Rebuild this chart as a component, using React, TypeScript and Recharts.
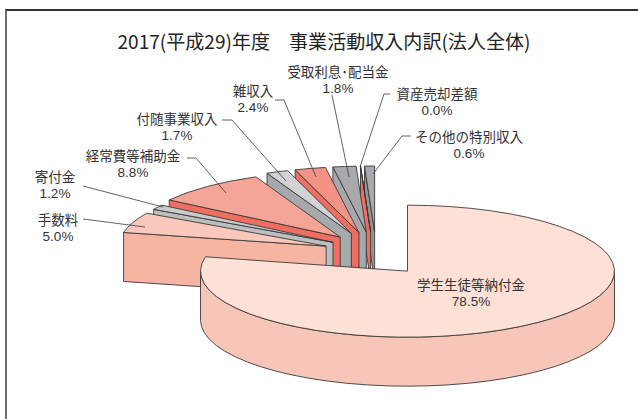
import React from "react";
import { PieChart, Pie, Cell } from "recharts";

const title = "2017(平成29)年度　事業活動収入内訳(法人全体)";
// drawn from the back of the pie to the front
const categories = ["その他の特別収入", "資産売却差額", "受取利息･配当金", "雑収入", "付随事業収入", "経常費等補助金", "寄付金", "手数料", "学生生徒等納付金"];
const values = [0.6, 0.0, 1.8, 2.4, 1.7, 8.8, 1.2, 5.0, 78.5];
const percentLabels = ["0.6%", "0.0%", "1.8%", "2.4%", "1.7%", "8.8%", "1.2%", "5.0%", "78.5%"];
const topColors = ["#a7a9ac", "#f29385", "#a7a9ac", "#f29385", "#d1d3d4", "#f5a597", "#c9cbcd", "#f9c8ba", "#fde0d6"];
const wallColors = ["#939598", "#ef6e60", "#a7a9ac", "#ef6e60", "#a7a9ac", "#ef6e60", "#bcbec0", "#f6b4a3", "#f8c6b8"];

const data = categories.map((name, i) => ({ name, value: values[i], pct: percentLabels[i], top: topColors[i], wall: wallColors[i] }));

const layout: Record<string, { x: number; y: number; leader: number[][]; explodeTurn: number }> = {
  "その他の特別収入": { x: 469, y: 137, explodeTurn: -1, leader: [[411, 136], [402, 136], [373, 174]] },
  "資産売却差額": { x: 437, y: 94, explodeTurn: 2, leader: [[390, 94], [384, 94], [360, 167]] },
  "受取利息･配当金": { x: 338, y: 72, explodeTurn: 3.6, leader: [[332, 95], [349, 177]] },
  "雑収入": { x: 253, y: 91, explodeTurn: 4.4, leader: [[275, 100], [284, 100], [316, 177]] },
  "付随事業収入": { x: 177, y: 119, explodeTurn: 6, leader: [[222, 120], [232, 120], [286, 181]] },
  "経常費等補助金": { x: 133, y: 156, explodeTurn: 2, leader: [[187, 158], [196, 158], [226, 193]] },
  "寄付金": { x: 55, y: 177, explodeTurn: -4, leader: [[83, 186], [163, 207]] },
  "手数料": { x: 58, y: 220, explodeTurn: 1, leader: [[83, 219], [145, 227]] },
  "学生生徒等納付金": { x: 471, y: 285, explodeTurn: 0, leader: [] },
};

const FLAT = 66 / 207;
const DEPTH = 49;
const EXPLODE_X = 52;
const EXPLODE_Y = 22;
const BACK_NUDGE = 0.65;
const STROKE = "#3a3a3a";
const RAD = Math.PI / 180;
const FONT = "'Liberation Sans', 'Noto Sans CJK JP', sans-serif";

function Slice3D(props: any) {
  const { cx, cy, outerRadius: r, payload } = props;
  const isMain = Math.abs(props.endAngle - props.startAngle) > 180;
  // the drawing gives the small back slices a little more room around 12 o'clock
  const nudge = (a: number) => (isMain || a < 90.01 ? a : a + BACK_NUDGE);
  const startAngle = nudge(props.startAngle);
  const endAngle = nudge(props.endAngle);
  const ry = r * FLAT;
  const mid = (startAngle + endAngle) / 2;
  const turn = layout[payload.name]?.explodeTurn ?? 0;
  const ax = cx + EXPLODE_X * Math.cos((mid + turn) * RAD);
  const ay = cy - EXPLODE_Y * Math.sin(mid * RAD);
  const pt = (deg: number) => [ax + r * Math.cos(deg * RAD), ay - ry * Math.sin(deg * RAD)];
  const [sx, sy] = pt(startAngle);
  const [ex, ey] = pt(endAngle);
  const large = Math.abs(endAngle - startAngle) > 180 ? 1 : 0;
  const top = `M${ax},${ay}L${sx},${sy}A${r},${ry} 0 ${large} 0 ${ex},${ey}Z`;
  const endNorm = ((endAngle % 360) + 360) % 360;
  const showWall = endNorm > 90.5 && endNorm < 270;
  const from = Math.max(startAngle, 180);
  const to = Math.min(endAngle, 360);
  let outer: string | null = null;
  if (to > from) {
    const [ox0, oy0] = pt(from);
    const [ox1, oy1] = pt(to);
    outer = `M${ox0},${oy0}A${r},${ry} 0 0 0 ${ox1},${oy1}L${ox1},${oy1 + DEPTH}A${r},${ry} 0 0 1 ${ox0},${oy0 + DEPTH}Z`;
  }
  return (
    <g>
      {showWall && (
        <path d={`M${ax},${ay}L${ex},${ey}L${ex},${ey + DEPTH}L${ax},${ay + DEPTH}Z`} fill={payload.wall} stroke={STROKE} strokeWidth={0.9} strokeLinejoin="round" />
      )}
      {outer && <path d={outer} fill={payload.wall} stroke={STROKE} strokeWidth={0.9} strokeLinejoin="round" />}
      <path d={top} fill={payload.top} stroke={STROKE} strokeWidth={0.9} strokeLinejoin="round" />
    </g>
  );
}

function SliceLabel(props: any) {
  const name = props.name ?? props.payload?.name;
  const item = layout[name];
  if (!item) return null;
  const pct = props.payload?.pct ?? props.pct;
  const textStyle = { fontFamily: FONT, fontSize: 13.5, fill: "#333" };
  return (
    <g>
      {item.leader.length > 0 && (
        <polyline points={item.leader.map((p) => p.join(",")).join(" ")} fill="none" stroke={STROKE} strokeWidth={0.8} />
      )}
      <text x={item.x} y={item.y} textAnchor="middle" dominantBaseline="central" style={textStyle}>{name}</text>
      <text x={item.x} y={item.y + 16} textAnchor="middle" dominantBaseline="central" style={textStyle}>{pct}</text>
    </g>
  );
}

export default function App() {
  return (
    <div style={{ position: "absolute", left: 0, top: 0, width: 638, height: 419, background: "#fff", overflow: "hidden" }}>
      <div style={{ position: "absolute", left: 5, top: 9, width: 633, height: 410, borderLeft: "2px solid #6e6e6e", borderTop: "2px solid #333", boxSizing: "border-box" }} />
      <div style={{ position: "absolute", left: 0, top: 0 }}>
        <PieChart width={638} height={419} margin={{ top: 0, right: 0, bottom: 0, left: 0 }}>
          <text x={324} y={40} textAnchor="middle" dominantBaseline="central" textLength={413} lengthAdjust="spacingAndGlyphs" style={{ fontFamily: "'Noto Sans CJK JP', sans-serif", fontSize: 19, fill: "#222" }}>{title}</text>
          <Pie
            data={data}
            dataKey="value"
            nameKey="name"
            cx={375}
            cy={254}
            innerRadius={0}
            outerRadius={207}
            startAngle={90}
            endAngle={450}
            stroke="none"
            isAnimationActive={false}
            shape={Slice3D}
            label={SliceLabel}
            labelLine={false}
          >
            {data.map((d) => <Cell key={d.name} fill={d.top} />)}
          </Pie>
        </PieChart>
      </div>
    </div>
  );
}
